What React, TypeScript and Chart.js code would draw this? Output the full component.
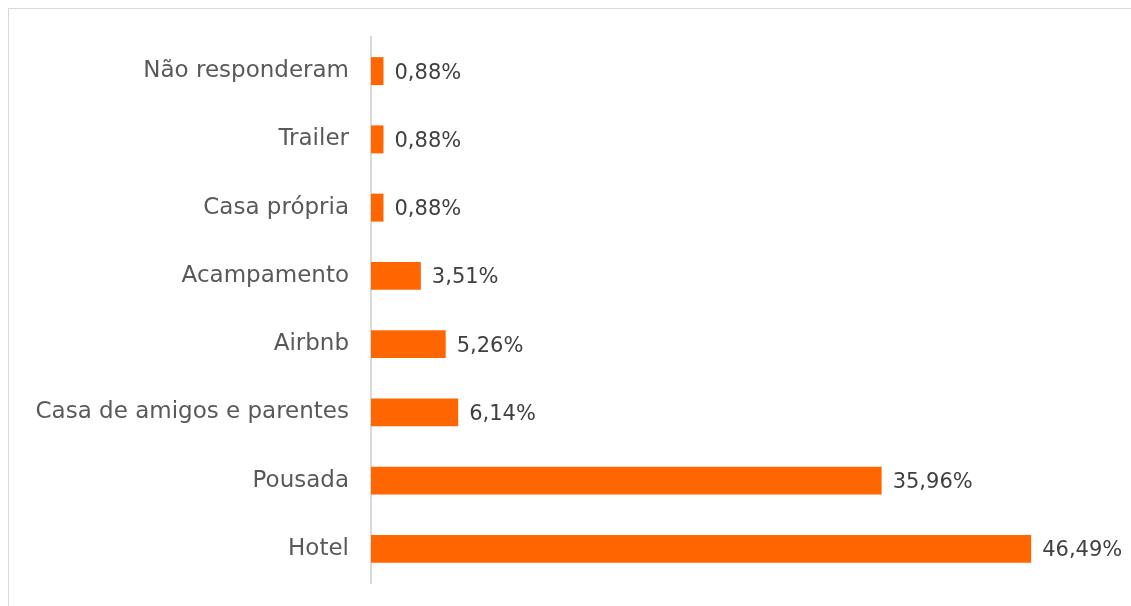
import React, { useEffect, useRef } from "react";
import { Chart, registerables } from "chart.js";

Chart.register(...registerables);

const categories: string[] = [
  "Não responderam",
  "Trailer",
  "Casa própria",
  "Acampamento",
  "Airbnb",
  "Casa de amigos e parentes",
  "Pousada",
  "Hotel",
];

const values: number[] = [0.88, 0.88, 0.88, 3.51, 5.26, 6.14, 35.96, 46.49];

const FONT = "'DejaVu Sans', sans-serif";

const fmt = (v: number) => v.toFixed(2).replace(".", ",") + "%";

const valueLabels = {
  id: "valueLabels",
  afterDatasetsDraw(chart: any) {
    const ctx = chart.ctx;
    const meta = chart.getDatasetMeta(0);
    ctx.save();
    ctx.font = `21px ${FONT}`;
    ctx.fillStyle = "#404040";
    ctx.textAlign = "left";
    ctx.textBaseline = "middle";
    meta.data.forEach((bar: any, i: number) => {
      ctx.fillText(fmt(values[i]), bar.x + 11, bar.y + 2);
    });
    ctx.restore();
  },
};

export default function App() {
  const ref = useRef<HTMLCanvasElement | null>(null);

  useEffect(() => {
    if (!ref.current) return;
    const chart = new Chart(ref.current, {
      type: "bar",
      data: {
        labels: categories,
        datasets: [
          {
            data: values,
            backgroundColor: "#FF6600",
            borderWidth: 0,
            categoryPercentage: 1,
            barPercentage: 0.41,
          },
        ],
      },
      options: {
        indexAxis: "y",
        responsive: false,
        animation: false,
        layout: { padding: { top: 37, bottom: 23, right: 50, left: 0 } },
        plugins: {
          legend: { display: false },
          tooltip: { enabled: false },
          title: { display: false },
        },
        scales: {
          x: {
            display: false,
            min: 0,
            max: 50,
          },
          y: {
            afterFit: (scale: any) => {
              scale.width = 371;
              scale.paddingTop = 0;
              scale.paddingBottom = 0;
            },
            grid: { display: false, drawTicks: false },
            border: { display: true, color: "#d9d9d9", width: 2 },
            ticks: {
              padding: 22,
              color: "#595959",
              font: { family: FONT, size: 23 },
            },
          },
        },
      },
      plugins: [valueLabels],
    });
    return () => chart.destroy();
  }, []);

  return (
    <>
      <div
        style={{
          position: "fixed",
          left: 8,
          top: 8,
          width: 1123,
          height: 598,
          borderTop: "1px solid #d9d9d9",
          borderLeft: "1px solid #d9d9d9",
          boxSizing: "border-box",
        }}
      />
      <canvas
        ref={ref}
        width={1131}
        height={606}
        style={{ position: "fixed", left: 0, top: 0, width: 1131, height: 606 }}
      />
    </>
  );
}
